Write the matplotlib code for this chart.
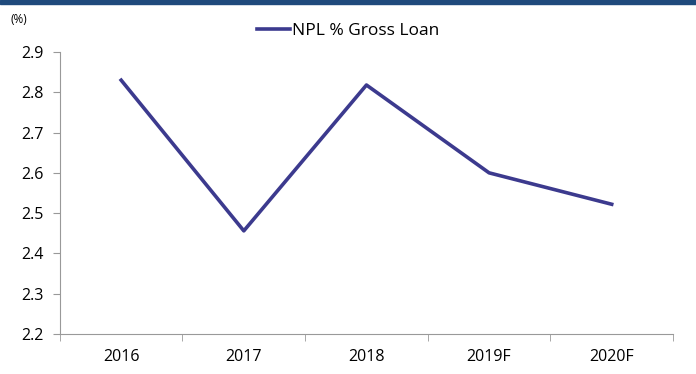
import matplotlib.pyplot as plt
from matplotlib.patches import Rectangle
import numpy as np

years = ["2016", "2017", "2018", "2019F", "2020F"]
npl = [2.83, 2.456, 2.818, 2.60, 2.522]
y_ticks = [2.2, 2.3, 2.4, 2.5, 2.6, 2.7, 2.8, 2.9]

plt.rcParams["font.family"] = ["Open Sans", "DejaVu Sans"]

fig = plt.figure(figsize=(6.96, 3.74), dpi=100)
ax = fig.add_axes([0.086, 0.107, 0.881, 0.754])

x = np.arange(len(years))
ax.plot(x, npl, color="#3c3a8e", linewidth=2.6, label="NPL % Gross Loan")

ax.set_yticks(y_ticks)
ax.set_yticklabels([f"{v:.1f}" for v in y_ticks], fontsize=11.5)
ax.set_xticks(x)
ax.set_xticklabels(years, fontsize=11.5)
ax.set_xticks(np.arange(-0.5, len(years)), minor=True)
ax.set_xlim(-0.5, len(years) - 0.5)
ax.set_ylim(2.2, 2.9)
ax.tick_params(axis="x", which="major", length=0, pad=11)
ax.tick_params(axis="x", which="minor", length=5, color="#999999", direction="out")
ax.tick_params(axis="y", length=5, color="#999999", pad=7)

for side in ("top", "right"):
    ax.spines[side].set_visible(False)
for side in ("left", "bottom"):
    ax.spines[side].set_color("#999999")

ax.legend(loc="center", bbox_to_anchor=(0.47, 1.075), frameon=False,
          fontsize=12.5, handlelength=1.9, handletextpad=0.1)
fig.text(0.015, 0.948, "(%)", fontsize=8.5, va="center")

fig.patches.append(Rectangle((0, 0.988), 1, 0.012, transform=fig.transFigure,
                             color="#1f4a7c", zorder=5))

fig.savefig("out.png", dpi=100)
